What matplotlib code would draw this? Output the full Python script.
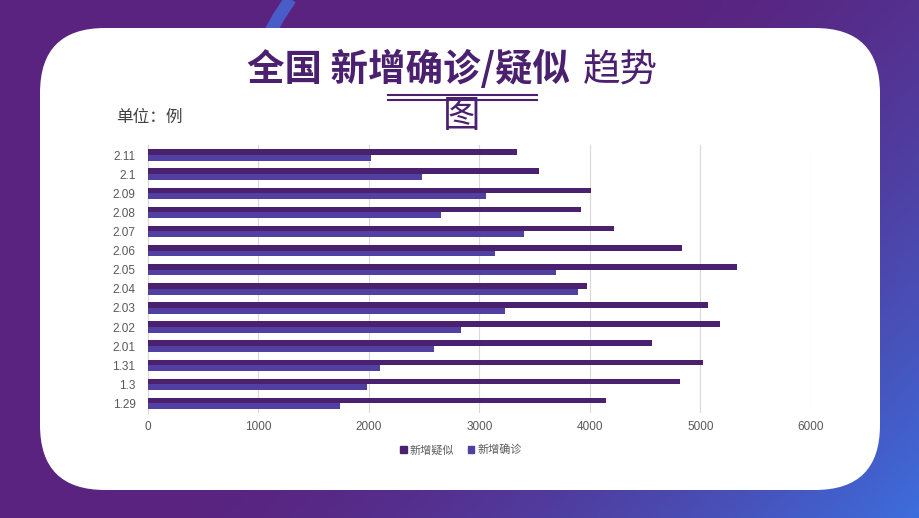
import numpy as np
import matplotlib
matplotlib.use("Agg")
import matplotlib.pyplot as plt
from matplotlib.patches import FancyBboxPatch, Patch

plt.rcParams["font.family"] = ["Noto Sans CJK SC", "DejaVu Sans"]

# data, bottom row first
dates = ["1.29", "1.3", "1.31", "2.01", "2.02", "2.03", "2.04",
         "2.05", "2.06", "2.07", "2.08", "2.09", "2.1", "2.11"]
suspected = [4148, 4812, 5019, 4562, 5173, 5072, 3971,
             5328, 4833, 4214, 3916, 4008, 3536, 3342]
confirmed = [1737, 1982, 2102, 2590, 2829, 3235, 3887,
             3694, 3143, 3399, 2656, 3062, 2478, 2015]
xticks = [0, 1000, 2000, 3000, 4000, 5000, 6000]

DARK = "#4b206e"
BLUE = "#5140a2"
W, H = 920, 518
NUM_FONT = ["Liberation Sans", "DejaVu Sans"]

fig = plt.figure(figsize=(W / 100, H / 100), dpi=100)

# background gradient + white card
bg = fig.add_axes([0, 0, 1, 1])
bg.set_xlim(0, W)
bg.set_ylim(H, 0)
bg.axis("off")
xx, yy = np.meshgrid(np.linspace(0, 1, 200), np.linspace(0, 1, 120))
t = np.clip((xx - 0.45) * 1.1 + (yy - 0.5) * 0.6, 0, 1) ** 1.6
c0 = np.array([0.35, 0.14, 0.50])
c1 = np.array([0.22, 0.48, 0.93])
img = c0 + (c1 - c0) * t[..., None]
bg.imshow(img, extent=(0, W, H, 0), aspect="auto", zorder=0)
bg.plot([266, 278, 293], [40, 18, -5], color="#4a5cc8", lw=9,
        solid_capstyle="butt", zorder=1)
card = FancyBboxPatch((40 + 65, 28 + 65), 840 - 130, 462 - 130,
                      boxstyle="round,pad=65", fc="white", ec="none", zorder=2)
bg.add_patch(card)

# title
fig.text(570 / W, 1 - 69 / H, "全国 新增确诊/疑似", ha="right", va="center",
         fontsize=27, fontweight="bold", color=DARK)
fig.text(583 / W, 1 - 71 / H, "趋势", ha="left", va="center",
         fontsize=27, color=DARK)
fig.text(462 / W, 1 - 116 / H, "图", ha="center", va="center",
         fontsize=27, color=DARK)
bg.plot([388, 537], [95, 95], color=DARK, lw=1.5, zorder=3)
bg.plot([388, 537], [99.5, 99.5], color=DARK, lw=1.5, zorder=3)
fig.text(116 / W, 1 - 117 / H, "单位：例", ha="left", va="center",
         fontsize=12, color="#404040")

# chart
ax = fig.add_axes([148 / W, 1 - 413 / H, (811 - 148) / W, 267.5 / H])
ax.patch.set_alpha(0)
y = np.arange(len(dates))
h = 0.3
ax.barh(y + h / 2, suspected, height=h, color=DARK, zorder=3)
ax.barh(y - h / 2, confirmed, height=h, color=BLUE, zorder=3)
ax.set_xlim(0, 6000)
ax.set_ylim(-0.5, len(dates) - 0.5)
ax.set_yticks(y)
ax.set_yticklabels(dates, family=NUM_FONT)
ax.set_xticks(xticks)
ax.set_xticklabels([str(v) for v in xticks], family=NUM_FONT)
ax.tick_params(length=0, labelsize=8.5, labelcolor="#595959", pad=6)
ax.tick_params(axis="y", pad=9)
ax.grid(axis="x", color="#d9d9d9", lw=0.8, zorder=0)
for s in ["top", "right", "bottom"]:
    ax.spines[s].set_visible(False)
ax.spines["left"].set_color("#d9d9d9")

handles = [Patch(color=DARK, label="新增疑似"), Patch(color=BLUE, label="新增确诊")]
fig.legend(handles=handles, loc="center", bbox_to_anchor=(461 / W, 1 - 450 / H),
           ncol=2, frameon=False, fontsize=8, handlelength=0.6, handleheight=0.6,
           handletextpad=0.3, columnspacing=1.2, labelcolor="#595959")

fig.savefig("out.png", dpi=100)
